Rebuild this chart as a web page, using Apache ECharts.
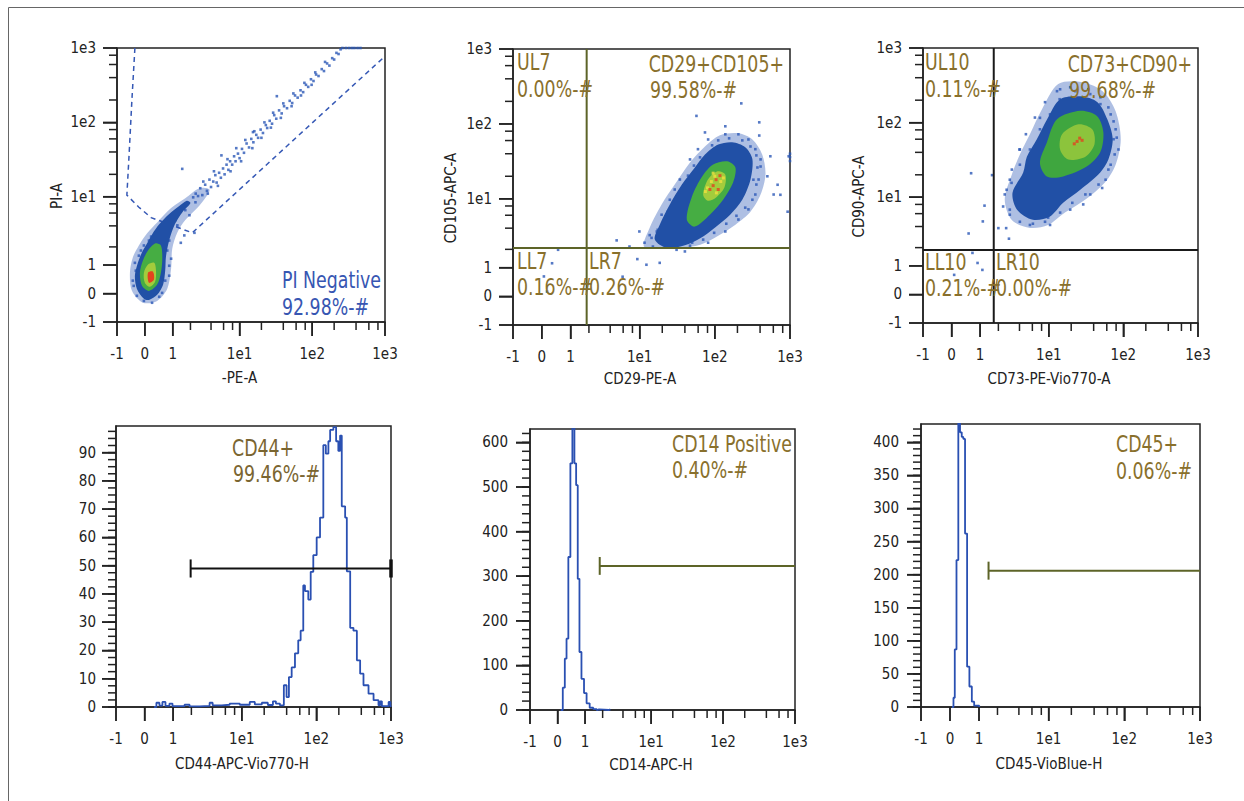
<!DOCTYPE html>
<html>
<head>
<meta charset="utf-8">
<script src="https://cdn.jsdelivr.net/npm/echarts@6/dist/echarts.min.js"></script>
<style>
html, body { margin: 0; padding: 0; background: #fff; }
#main { width: 1244px; height: 801px; }
</style>
</head>
<body>
<div id="main"></div>
<script>
// biexponential axis: -1, 0, 1, 1e1, 1e2, 1e3 (drawn on asinh scale)
var tickVals = [-1, 0, 1, 10, 100, 1000];
var tickLabels = ['-1', '0', '1', '1e1', '1e2', '1e3'];
var minorVals = [2, 4, 6, 8, 20, 40, 60, 80, 200, 400, 600, 800];

// ---- panel 1: -PE-A vs PI-A ----
var p1Halo = [[-0.06,-0.29],[-0.42,0.084],[-0.49,0.69],[-0.39,1.36],[-0.19,2.1],[0.067,3.13],[0.4,4.46],[0.93,7.0],[1.66,9.5],[2.73,13],[3.82,12.3],[2.73,7.6],[1.66,4.8],[1.22,3.24],[0.98,1.88],[0.93,0.85],[0.77,0.147],[0.4,-0.23]];
var p1Blue = [[-0.03,-0.166],[-0.255,0.147],[-0.32,0.58],[-0.222,1.10],[-0.093,1.64],[0.067,2.25],[0.23,3.04],[0.47,4.2],[0.85,5.8],[1.3,7.4],[1.75,8.8],[2.0,8.2],[1.5,6.2],[1.1,4.2],[0.85,2.5],[0.72,1.41],[0.69,0.77],[0.61,0.275],[0.4,-0.04],[0.13,-0.2]];
var p1Green = [[-0.09,0.24],[-0.157,0.69],[-0.06,1.21],[0.1,1.76],[0.33,2.25],[0.53,2.1],[0.58,1.3],[0.53,0.69],[0.4,0.28],[0.13,0.08]];
var p1Yellow = [[0,0.34],[-0.03,0.69],[0.1,1.02],[0.3,1.1],[0.36,0.77],[0.33,0.37],[0.16,0.21]];
var p1Red = [[0.1,0.69],[0.26,0.73],[0.29,0.44],[0.13,0.34]];
var p1Dots = [[2.4,11],[2.8,13],[3.0,10.5],[3.3,14.5],[3.5,12],[3.8,17],[4.0,13.5],[4.3,16],[4.6,19.5],[4.8,15.5],[5.2,21],[5.5,18],[5.9,24],[6.2,20],[6.6,27],[7.0,23],[7.4,30],[7.9,27],[8.4,35],[8.8,30],[9.5,38],[10,33],[10.8,44],[11.5,39],[12.5,52],[13.5,46],[14.5,60],[15.5,54],[17,68],[18,62],[19.5,80],[21,72],[23,92],[24,84],[26,105],[28,96],[30,125],[32,112],[35,145],[38,132],[41,165],[45,155],[49,195],[53,182],[58,230],[63,215],[69,270],[75,255],[82,320],[88,300],[96,380],[104,360],[113,440],[122,420],[135,520],[145,490],[160,620],[172,580],[188,730],[200,700],[215,860],[230,830],[245,960],[260,1000],[290,1000],[320,1000],[350,1000],[380,1000],[420,1000],[460,1000],
  [3.1,16],[4.4,22],[6.8,32],[9,45],[12,58],[16,76],[22,100],[29,135],[40,180],[55,245],[78,340],[110,470],[150,650],
  [3.6,11],[5.0,14],[7.5,22],[10.5,30],[15,45],[20,62],[27,85],[37,115],[52,165],[70,230],[98,320],
  [1.48,23.7],[5.6,36],[2.3,3.2],[1.4,2.3],[15.3,74],[32.6,225],
  [-0.36,0.24],[-0.29,0.77],[-0.19,1.46],[-0.03,2.1],[0.2,2.83],[0.47,3.7],[0.93,5.6],[0.77,1.76],[0.85,0.97],[0.69,0.41],[0.47,-0.1],[-0.03,-0.23],[1.22,4.06],[1.6,2.94],[1.93,5.6],[2.2,9.8],[2.6,10.2],
  [-0.255,-0.07],[-0.39,0.41],[-0.32,1.1],[-0.125,1.76],[0.13,2.48],[0.574,3.46],[1.12,4.78],[1.66,6.57],[2.38,8.4],[0.85,2.48],[0.93,1.3],[0.85,0.58],[0.574,0.02],[0.23,-0.29]];
var p1Gate = [[-0.32,1000],[-0.42,204],[-0.53,31],[-0.6,10.5],[-0.19,7.2],[0.2,5.2],[2.13,3.2],[970,755]];

// ---- panel 2: CD29-PE-A vs CD105-APC-A ----
var p2Halo = [[11.6,2.17],[13.6,4.06],[19.6,8.4],[29.3,15.5],[46.8,30.6],[74,50],[117,70.5],[206,75],[316,62],[427,39],[472,21],[406,11.4],[298,6.7],[188,4.46],[111,3.13],[64,2.33],[34.3,2.11]];
var p2Blue = [[15.9,2.77],[18.5,4.46],[25.2,8.4],[36.5,15.5],[54.4,26.2],[74,39],[111,53],[170,57],[254,49],[316,34],[298,18],[232,9.7],[160,6.1],[101,4.1],[64,2.9],[40,2.3],[23,2.1]];
var p2Green = [[42.4,5.25],[49.7,10.7],[67.8,19.8],[95,28.7],[146,31.7],[188,26.2],[175,16.5],[129,9.7],[86,6.1],[54,4.2]];
var p2Lime = [[70,11.3],[81,18.1],[107,23.2],[138,21],[134,14.1],[104,10.4],[81,9.4]];
var p2Hot = [[80,14],[90,17],[100,20],[120,17],[105,12],[75,12.5],[130,19],[95,22]];
var p2Red = [[95,15],[104,18],[86,13.3],[111,13.3],[117,20.4]];
var p2Dots = [[57,128],[225,188],[390,105],[138,93],[74,77],[390,70],[548,37],[960,37],[684,15.4],[745,11.3],[930,6.7],[406,27],[326,18],[500,20],[606,11.4],[1000,32],[1000,36],[1000,40],
  [9.9,3.6],[7.3,2.2],[4.9,2.7],[15,2.2],[17.4,3.8],[31,1.97],[40,1.86],[9.3,1.41],[12.3,1.13],[18.5,1.22],[0.32,1.2],[0.065,0.65],[0.16,0.146],[5.9,0.64],[0.52,1.97],
  [13.6,3.2],[11.6,2.5],[18.5,2.5],[19.6,6.1],[25.2,9.7],[29.3,13.3],[34.3,18.1],[46.8,33.6],[59.7,46],[81.5,62],[138,72.7],[206,72.7],[280,62],[346,46],[406,33.6],[382,18.1],[346,11.4],[280,7.2],[206,5.25],[138,3.6],[81.5,2.5],[46.8,2.26],
  [14.4,2.93],[16.9,3.59],[20.9,4.9],[23.7,6.7],[27.7,8.9],[33.3,11.4],[38.8,15],[44,20.4],[52.8,27.8],[63.6,35.8],[92,51.8],[111,60.3],[155,64.2],[232,60.3],[298,50],[357,38],[369,26.2],[357,15.5],[316,9.7],[254,7.6],[194,5.9],[142,4.6],[98,3.45],[70,2.77],[50,2.5],[26.8,2.26],[19.6,2.93]];
var p2Quad = [1.85, 2.1];

// ---- panel 3: CD73-PE-Vio770-A vs CD90-APC-A ----
var p3Halo = [[13.4,329],[28.1,349],[52.8,264],[78.8,142],[92.3,59.6],[78.8,27.3],[57.8,16.2],[31,9.3],[16.5,6.2],[9.8,4.2],[5.56,3.83],[3.13,4.9],[2.48,9.3],[3.13,20.2],[4.05,37.5],[5.56,70],[8.1,151]];
var p3Blue = [[14.2,206],[26.5,225],[45,188],[61,111],[72,60],[63,32],[49,21.5],[26.5,12.6],[15.6,8.4],[10.4,5.5],[6.1,4.95],[3.7,6.8],[3.2,11.5],[4.5,21.5],[5.05,35],[6.9,60],[9.5,111]];
var p3Green = [[12.9,111],[26.5,144],[44.6,122],[54,74],[49,40],[32.7,26],[15.6,19],[9.4,19],[7.6,29],[9.4,54]];
var p3Lime = [[15.1,70],[25,95],[38.5,81],[41,51],[31,35],[18.3,32],[14.2,43.7]];
var p3Red = [[24,56],[26,62],[22,52],[28,58]];
var p3Dots = [[0.64,21],[1.6,19.8],[1.2,7.7],[1.12,4.7],[0.55,3.2],[2.0,3.8],[2.6,3.8],[2.85,2.7],[2.35,7.5],[3.1,15.6],[4.0,43.7],[7.6,116],[14,206],[74,60],[52,13.3],[29,8],[9.8,5.3],[0.69,1.66],[0.89,1.13],[0.08,0.64],[1.1,0.83],
  [14.2,280],[22.8,264],[36,241],[49.3,177],[67.6,129],[78.8,81.5],[86,43.7],[67.6,27.3],[57.8,17.2],[36,10.9],[19.4,6.8],[10.4,4.2],[5.56,4.2],[2.93,5.8],[2.48,10.9],[2.93,17.2],[4.05,27.3],[5.56,43.7],[7.6,81.5],[10.4,129],
  [12.9,264],[19.4,298],[34,280],[49.3,219],[63,160],[74,104],[81.5,63],[76.5,37.5],[63,23.5],[46.5,14.8],[31,10.9],[20.7,8.4],[14.2,6.2],[8.9,4.65],[6.1,4.37],[4.05,4.65],[2.93,6.8],[2.64,12.6],[3.13,23.5],[4.05,43.7],[4.9,70],[6.5,117],[8.9,188]];
var p3Quad = [1.70, 1.84];

// ---- panel 4: CD44 histogram (bin left edges, counts) ----
var cd44Edges = [0.3,0.373,0.474,0.579,0.690,0.845,0.971,1.57,1.88,2.64,3.65,4.02,5.35,6.87,9.39,12.8,14.97,18.6,22.4,26.2,28.7,32.5,36.7,39.9,42.9,46.7,51.7,57.2,61.6,66.8,70.4,78.0,84.0,91.0,101,112,124,134,145,153,169,184,197,208,219,243,256,284,314,349,386,428,500,584,680,717,755,929,980,1000];
var cd44Counts = [0,1.5,0.5,1.8,0.4,1.2,0.3,0.8,0.2,0.4,1.5,0.6,0.8,1.2,0.8,1.8,0.9,1.5,0.7,2,1.2,0.6,7.7,3.5,10.6,14,19,23.6,27,43,41,38,47.8,53.7,60,67,92.6,89.6,94,98,99,94,90.6,96,71,67,48,28,27,16.5,11.8,7.7,4.7,2.4,0.6,2,0.3,1.8,0.5,0];
var cd44Ticks = [0,10,20,30,40,50,60,70,80,90];
var cd44Gate = [1.95, 49];

// ---- panel 5: CD14 histogram ----
var cd14Edges = [0.1,0.169,0.235,0.292,0.353,0.423,0.493,0.567,0.631,0.693,0.761,0.843,0.953,1.07,1.22,1.41,1.61,1.66,1.75,2.5,2.62];
var cd14Counts = [0,50,115,160,343,553,680,553,504,294,130,70,38,15,5,2,0,1.5,0,1.5,0];
var cd14Ticks = [0,100,200,300,400,500,600];
var cd14Gate = [1.80, 323];

// ---- panel 6: CD45 histogram ----
var cd45Edges = [0.06,0.106,0.146,0.199,0.256,0.310,0.365,0.417,0.474,0.544,0.625,0.714,0.803,1.01];
var cd45Counts = [0,14,87,222,440,415,408,405,262,61,31,8,2,0];
var cd45Ticks = [0,50,100,150,200,250,300,350,400];
var cd45Gate = [1.46, 206];

var FONT = "'DejaVu Sans Condensed','Liberation Sans Narrow',sans-serif";
var INK = '#222';
var BLUE = '#2150a6', DOT = '#2b58b6', HALO = 'rgba(43,88,182,0.38)', GREEN = '#46ad43', LIME = '#a3cc3c', YELLOW = '#f0e03e', RED = '#e2421f';
var ANN = '#89702c', OLIVE = '#5d6428';
var UMIN = Math.asinh(-1), UMAX = Math.asinh(1000);

function range(a, b, step) { var r = []; for (var v = a; v <= b + 1e-9; v += step) r.push(v); return r; }
function bioLabel(u) {
  for (var i = 0; i < tickVals.length; i++) {
    if (Math.abs(Math.asinh(tickVals[i]) - u) < 1e-6) return tickLabels[i];
  }
  return '';
}

var panels = [
  { grid: { left: 117, top: 48, width: 268, height: 274 }, xName: '-PE-A', yName: 'PI-A', xGap: 48, yGap: 53 },
  { grid: { left: 513, top: 49, width: 277, height: 276 }, xName: 'CD29-PE-A', yName: 'CD105-APC-A', xGap: 46, yGap: 55 },
  { grid: { left: 923, top: 48, width: 275, height: 275 }, xName: 'CD73-PE-Vio770-A', yName: 'CD90-APC-A', xGap: 48, yGap: 57 },
  { grid: { left: 116, top: 426, width: 275, height: 281 }, xName: 'CD44-APC-Vio770-H', xGap: 49, yMax: 99.4, yTicks: cd44Ticks, yMinor: range(0, 97.5, 2.5), yMargin: 20 },
  { grid: { left: 530, top: 429, width: 265, height: 281 }, xName: 'CD14-APC-H', xGap: 47, yMax: 630, yTicks: cd14Ticks, yMinor: range(0, 620, 20), yMargin: 22 },
  { grid: { left: 921, top: 424, width: 279, height: 283 }, xName: 'CD45-VioBlue-H', xGap: 49, yMax: 427.6, yTicks: cd45Ticks, yMinor: range(0, 420, 10), yMargin: 22 }
];

var labelStyle = { fontFamily: FONT, fontSize: 15, color: INK };
var majorU = tickVals.map(Math.asinh), minorU = minorVals.map(Math.asinh);
var grids = [], xAxes = [], yAxes = [];
panels.forEach(function (p, i) {
  grids.push(Object.assign({ show: true, borderColor: INK, borderWidth: 1.5, containLabel: false }, p.grid));
  xAxes.push({
    type: 'value', gridIndex: i, min: UMIN, max: UMAX, position: 'bottom',
    name: p.xName, nameLocation: 'middle', nameGap: p.xGap,
    nameTextStyle: Object.assign({ padding: [0, 23, 0, 0] }, labelStyle),
    axisLine: { show: true, onZero: false, lineStyle: { color: INK, width: 1.5 } },
    axisTick: { show: true, customValues: majorU, length: 14, lineStyle: { color: INK, width: 1.5 } },
    axisLabel: Object.assign({ show: true, customValues: majorU, formatter: bioLabel, margin: 24 }, labelStyle),
    splitLine: { show: false }
  });
  if (p.yName) {
    yAxes.push({
      type: 'value', gridIndex: i, min: UMIN, max: UMAX, position: 'left',
      name: p.yName, nameLocation: 'middle', nameGap: p.yGap,
      nameTextStyle: Object.assign({ padding: [0, 22, 0, 0] }, labelStyle),
      axisLine: { show: true, onZero: false, lineStyle: { color: INK, width: 1.5 } },
      axisTick: { show: true, customValues: majorU, length: 14, lineStyle: { color: INK, width: 1.5 } },
      axisLabel: Object.assign({ show: true, customValues: majorU, formatter: bioLabel, margin: 21 }, labelStyle),
      splitLine: { show: false }
    });
  } else {
    yAxes.push({
      type: 'value', gridIndex: i, min: 0, max: p.yMax, position: 'left',
      axisLine: { show: true, onZero: false, lineStyle: { color: INK, width: 1.5 } },
      axisTick: { show: true, customValues: p.yTicks, length: 14, lineStyle: { color: INK, width: 1.5 } },
      axisLabel: Object.assign({ show: true, customValues: p.yTicks, margin: p.yMargin }, labelStyle),
      splitLine: { show: false }
    });
  }
});

function tr(p, logY) { return [Math.asinh(p[0]), logY ? Math.asinh(p[1]) : p[1]]; }

// polygons (fill) and polylines (stroke) in data coordinates
function shapeSeries(gi, shapes, styles, logY, z) {
  return {
    type: 'custom', xAxisIndex: gi, yAxisIndex: gi, silent: true, z: z,
    data: shapes.map(function (s) { return tr(s[0], logY); }),
    renderItem: function (params, api) {
      var s = shapes[params.dataIndex], st = styles[params.dataIndex];
      var pts = s.map(function (p) { return api.coord(tr(p, logY)); });
      if (st.fill) {
        return { type: 'polygon', shape: { points: pts, smooth: st.smooth || 0 }, style: { fill: st.fill } };
      }
      return { type: 'polyline', shape: { points: pts }, style: { fill: null, stroke: st.stroke, lineWidth: st.width || 1.5, lineDash: st.dash || null } };
    }
  };
}
// axis tick marks (major and minor) placed through the axis scale
function tickSeries(gi, dim, vals, len, base) {
  return {
    type: 'custom', xAxisIndex: gi, yAxisIndex: gi, silent: true, z: 10, clip: false,
    data: vals.map(function (v) { return dim === 'x' ? [v, base] : [base, v]; }),
    renderItem: function (params, api) {
      var pt = api.coord([api.value(0), api.value(1)]);
      var end = dim === 'x' ? [pt[0], pt[1] + len] : [pt[0] - len, pt[1]];
      return { type: 'line', shape: { x1: pt[0], y1: pt[1], x2: end[0], y2: end[1] }, style: { stroke: INK, lineWidth: 1.5 } };
    }
  };
}
function dotSeries(gi, pts, color, size, z) {
  return {
    type: 'scatter', xAxisIndex: gi, yAxisIndex: gi, silent: true, z: z,
    symbol: 'rect', symbolSize: size,
    data: pts.map(function (p) { return tr(p, true); }),
    itemStyle: { color: color }
  };
}
function histSeries(gi, xs, ys) {
  return {
    type: 'line', xAxisIndex: gi, yAxisIndex: gi, silent: true, step: 'end',
    showSymbol: false, symbol: 'none', clip: true,
    data: xs.map(function (x, i) { return [Math.asinh(x), ys[i]]; }),
    lineStyle: { color: '#2a50b2', width: 1.8 }, itemStyle: { color: '#2a50b2' }
  };
}
function gateShapes(g, cap, rightCap) {
  var s = [[[g[0], g[1]], [1000, g[1]]], [[g[0], g[1] - cap], [g[0], g[1] + cap]]];
  if (rightCap) s.push([[1000, g[1] - cap], [1000, g[1] + cap]]);
  return s;
}

var series = [];
panels.forEach(function (p, i) {
  var yBase = p.yName ? UMIN : 0;
  series.push(tickSeries(i, 'x', majorU, 14, yBase));
  series.push(tickSeries(i, 'x', minorU, 8, yBase));
  if (p.yName) {
    series.push(tickSeries(i, 'y', majorU, 14, UMIN));
    series.push(tickSeries(i, 'y', minorU, 8, UMIN));
  } else {
    series.push(tickSeries(i, 'y', p.yTicks, 14, UMIN));
    series.push(tickSeries(i, 'y', p.yMinor, 8, UMIN));
  }
});
// panel 1
series.push(shapeSeries(0, [p1Gate], [{ stroke: '#3558b5', width: 1.5, dash: [5, 4] }], true, 1));
series.push(shapeSeries(0, [p1Halo], [{ fill: HALO, smooth: 0.3 }], true, 2));
series.push(dotSeries(0, p1Dots, DOT, 2.6, 3));
series.push(shapeSeries(0, [p1Blue, p1Green, p1Yellow, p1Red],
  [{ fill: BLUE, smooth: 0.3 }, { fill: GREEN, smooth: 0.3 }, { fill: LIME, smooth: 0.3 }, { fill: RED, smooth: 0.3 }], true, 4));
// panel 2
series.push(shapeSeries(1, [p2Halo], [{ fill: HALO, smooth: 0.3 }], true, 2));
series.push(dotSeries(1, p2Dots, DOT, 2.6, 3));
series.push(shapeSeries(1, [p2Blue, p2Green, p2Lime],
  [{ fill: BLUE, smooth: 0.3 }, { fill: GREEN, smooth: 0.3 }, { fill: LIME, smooth: 0.3 }], true, 4));
series.push(dotSeries(1, p2Hot, YELLOW, 3, 5));
series.push(dotSeries(1, p2Red, RED, 3, 6));
series.push(shapeSeries(1, [[[p2Quad[0], -1], [p2Quad[0], 1000]], [[-1, p2Quad[1]], [1000, p2Quad[1]]]],
  [{ stroke: OLIVE, width: 2 }, { stroke: OLIVE, width: 2 }], true, 7));
// panel 3
series.push(shapeSeries(2, [p3Halo], [{ fill: HALO, smooth: 0.3 }], true, 2));
series.push(dotSeries(2, p3Dots, DOT, 2.6, 3));
series.push(shapeSeries(2, [p3Blue, p3Green, p3Lime],
  [{ fill: BLUE, smooth: 0.3 }, { fill: '#3fa63f', smooth: 0.3 }, { fill: '#8cc43c', smooth: 0.3 }], true, 4));
series.push(dotSeries(2, p3Red, RED, 3, 6));
series.push(shapeSeries(2, [[[p3Quad[0], -1], [p3Quad[0], 1000]], [[-1, p3Quad[1]], [1000, p3Quad[1]]]],
  [{ stroke: '#1a1a1a', width: 2 }, { stroke: '#1a1a1a', width: 2 }], true, 7));
// histograms
series.push(histSeries(3, cd44Edges, cd44Counts));
series.push(shapeSeries(3, gateShapes(cd44Gate, 3.2, true), [{ stroke: '#111', width: 2 }, { stroke: '#111', width: 2 }, { stroke: '#111', width: 3.5 }], false, 7));
series.push(histSeries(4, cd14Edges, cd14Counts));
series.push(shapeSeries(4, gateShapes(cd14Gate, 20, false), [{ stroke: OLIVE, width: 2 }, { stroke: OLIVE, width: 2 }], false, 7));
series.push(histSeries(5, cd45Edges, cd45Counts));
series.push(shapeSeries(5, gateShapes(cd45Gate, 13.6, false), [{ stroke: OLIVE, width: 2 }, { stroke: OLIVE, width: 2 }], false, 7));

function txt(x, y, s, color, align) {
  return { type: 'text', x: x, y: y, z: 100, silent: true, scaleX: 0.84,
    style: { text: s, fill: color || ANN, fontFamily: FONT, fontSize: 23, align: align || 'left', verticalAlign: 'middle' } };
}
var graphics = [
  { type: 'polyline', silent: true, shape: { points: [[8.5, 801], [8.5, 7.5], [1244, 7.5]] }, style: { fill: null, stroke: '#666', lineWidth: 1 } },
  txt(282, 280, 'PI Negative', '#3756b2'), txt(282, 307, '92.98%-#', '#3756b2'),
  txt(517, 62, 'UL7'), txt(517, 89, '0.00%-#'), txt(784, 64, 'CD29+CD105+', ANN, 'right'), txt(650, 90, '99.58%-#'),
  txt(517, 261, 'LL7'), txt(517, 287, '0.16%-#'), txt(589, 261, 'LR7'), txt(589, 287, '0.26%-#'),
  txt(925, 62, 'UL10'), txt(925, 89, '0.11%-#'), txt(1192, 64, 'CD73+CD90+', ANN, 'right'), txt(1069, 90, '99.68%-#'),
  txt(925, 262, 'LL10'), txt(925, 288, '0.21%-#'), txt(996, 262, 'LR10'), txt(996, 288, '0.00%-#'),
  txt(232, 448, 'CD44+', '#7a6530'), txt(233, 474, '99.46%-#', '#7a6530'),
  txt(672, 444, 'CD14 Positive'), txt(672, 470, '0.40%-#'),
  txt(1116, 444, 'CD45+'), txt(1116, 471, '0.06%-#')
];

var chart = echarts.init(document.getElementById('main'), null, { renderer: 'svg' });
chart.setOption({
  animation: false,
  backgroundColor: '#fff',
  grid: grids,
  xAxis: xAxes,
  yAxis: yAxes,
  series: series,
  graphic: graphics
});
</script>
</body>
</html>
